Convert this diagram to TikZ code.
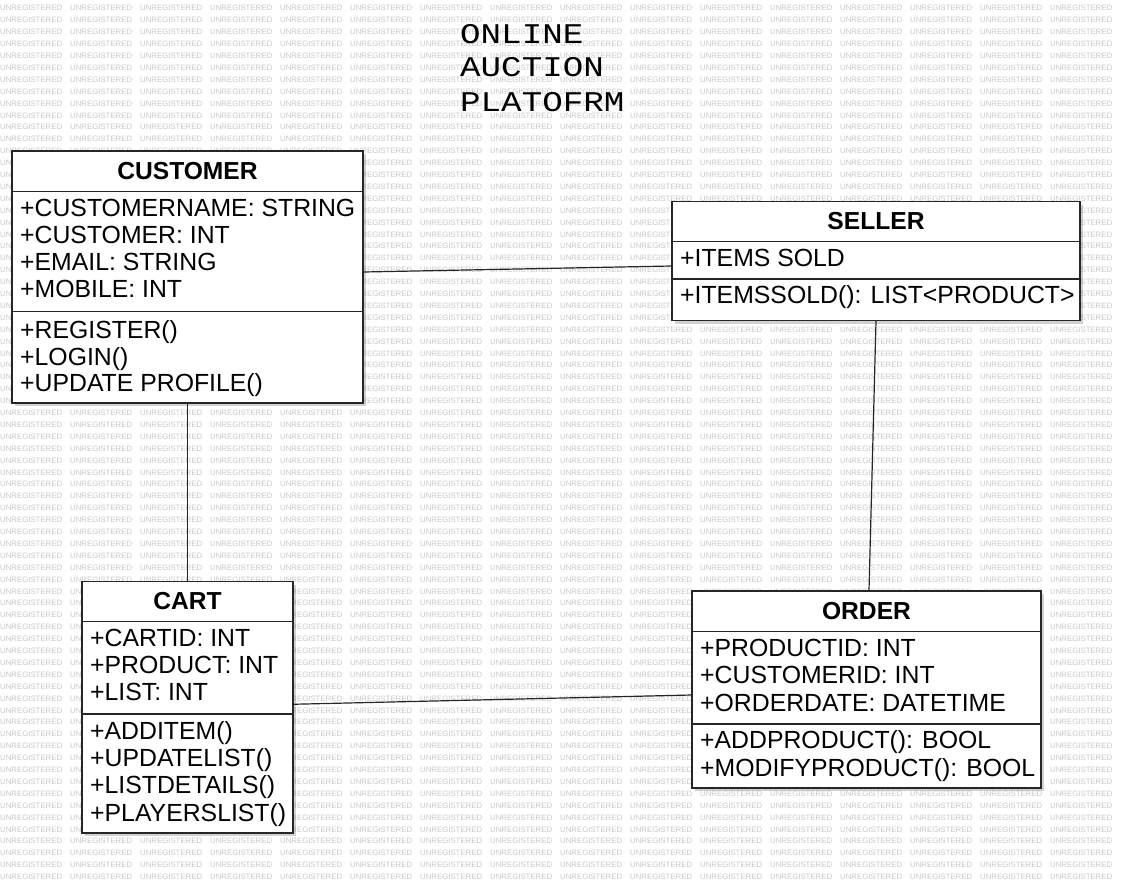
\documentclass[tikz,border=0pt]{standalone}
\usepackage{fontspec}
\setmainfont{Liberation Sans}
\newfontfamily\titlemono{Liberation Mono}
\usetikzlibrary{shadows}

\tikzset{
  classbox/.style={draw=black!85, line width=1.2pt, fill=white,
    drop shadow={shadow xshift=3pt, shadow yshift=-3pt, opacity=0.18, fill=black}},
  classname/.style={font=\fontsize{24.6}{27}\selectfont\bfseries, inner sep=0pt, anchor=base},
  member/.style={font=\fontsize{24.8}{27}\selectfont, inner sep=0pt, anchor=base west},
  divider/.style={draw=black!85, line width=1.2pt},
  assoc/.style={draw=black!85, line width=1.2pt},
  watermark/.style={font=\fontsize{7.8}{8}\selectfont, text=black!22, inner sep=0pt, anchor=west},
  titleline/.style={font=\titlemono\fontsize{28.5}{34}\selectfont, inner sep=0pt, anchor=base west}
}

\begin{document}
\begin{tikzpicture}[x=1pt, y=-1pt]
\useasboundingbox (0,0) rectangle (1131,883);
% Background watermark
\foreach \r in {0,...,73}
  \foreach \c in {0,...,15}
    \node[watermark] (wm-\r-\c) at (\c*70, 8.3+\r*11.9) {UNREGISTERED};

% Title
\node[titleline] (title1) at (460,43.3) {\scalebox{1.2}[1]{ONLINE}};
\node[titleline] (title2) at (460,77) {\scalebox{1.2}[1]{AUCTION}};
\node[titleline] (title3) at (460,111.5) {\scalebox{1.2}[1]{PLATOFRM}};

% Customer class
\node[classbox, minimum width=351pt, minimum height=252pt] (customer) at (187.5,277) {};
\draw[divider] (customer.west |- 0,191.5) -- (customer.east |- 0,191.5);
\draw[divider] (customer.west |- 0,311.5) -- (customer.east |- 0,311.5);
\node[classname] (customer-name) at (187.5,179.3) {CUSTOMER};
\node[member] (customer-a1) at (20,216.7) {+CUSTOMERNAME: STRING};
\node[member] (customer-a2) at (20,243.5) {+CUSTOMER: INT};
\node[member] (customer-a3) at (20,270.7) {+EMAIL: STRING};
\node[member] (customer-a4) at (20,297.5) {+MOBILE: INT};
\node[member] (customer-m1) at (20,338) {+REGISTER()};
\node[member] (customer-m2) at (20,365) {+LOGIN()};
\node[member] (customer-m3) at (20,391.7) {+UPDATE PROFILE()};

% Seller class
\node[classbox, minimum width=408pt, minimum height=119pt] (seller) at (876,261) {};
\draw[divider] (seller.west |- 0,241.5) -- (seller.east |- 0,241.5);
\draw[divider] (seller.west |- 0,279) -- (seller.east |- 0,279);
\node[classname] (seller-name) at (876,229.3) {SELLER};
\node[member] (seller-a1) at (680,266.7) {+ITEMS SOLD};
\node[member] (seller-m1) at (680,303.3) {+ITEMSSOLD(): LIST<PRODUCT>};

% Cart class
\node[classbox, minimum width=211pt, minimum height=251.5pt] (cart) at (187.5,707.25) {};
\draw[divider] (cart.west |- 0,621.5) -- (cart.east |- 0,621.5);
\draw[divider] (cart.west |- 0,714) -- (cart.east |- 0,714);
\node[classname] (cart-name) at (187.5,609) {CART};
\node[member] (cart-a1) at (90,646.7) {+CARTID: INT};
\node[member] (cart-a2) at (90,673.3) {+PRODUCT: INT};
\node[member] (cart-a3) at (90,700.5) {+LIST: INT};
\node[member] (cart-m1) at (90,739.3) {+ADDITEM()};
\node[member] (cart-m2) at (90,766.7) {+UPDATELIST()};
\node[member] (cart-m3) at (90,793.3) {+LISTDETAILS()};
\node[member] (cart-m4) at (90,821.7) {+PLAYERSLIST()};

% Order class
\node[classbox, minimum width=349pt, minimum height=197pt] (order) at (866.5,689.5) {};
\draw[divider] (order.west |- 0,631.5) -- (order.east |- 0,631.5);
\draw[divider] (order.west |- 0,724) -- (order.east |- 0,724);
\node[classname] (order-name) at (866.5,619.3) {ORDER};
\node[member] (order-a1) at (700,656.7) {+PRODUCTID: INT};
\node[member] (order-a2) at (700,683.3) {+CUSTOMERID: INT};
\node[member] (order-a3) at (700,711.7) {+ORDERDATE: DATETIME};
\node[member] (order-m1) at (700,748.3) {+ADDPRODUCT(): BOOL};
\node[member] (order-m2) at (700,776) {+MODIFYPRODUCT(): BOOL};

% Associations
\draw[assoc] ([yshift=5pt]customer.east) -- ([yshift=-5pt]seller.west);
\draw[assoc] (customer.south) -- (cart.north);
\draw[assoc] (seller.south) -- ([xshift=2.5pt]order.north);
\draw[assoc] ([yshift=3pt]cart.east) -- ([yshift=-5.5pt]order.west);
\end{tikzpicture}
\end{document}
